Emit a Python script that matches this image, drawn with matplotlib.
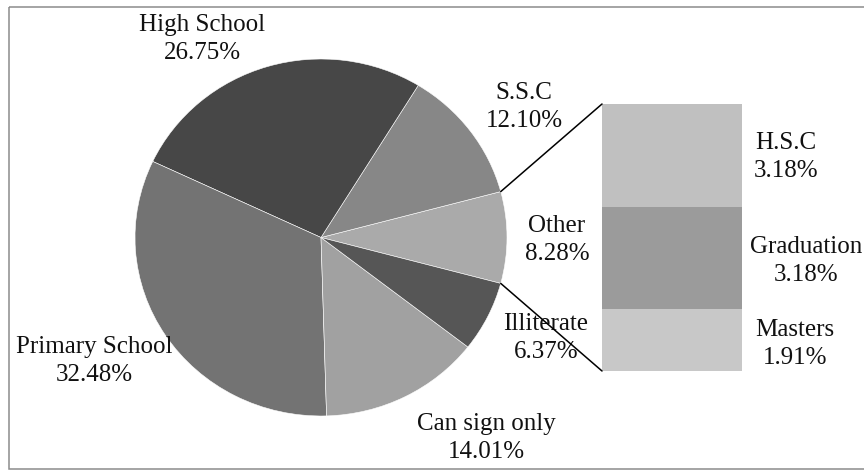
import matplotlib
matplotlib.use("Agg")
import matplotlib.pyplot as plt
from matplotlib.patches import ConnectionPatch, Rectangle
import numpy as np

# pie slices, counter-clockwise starting from the "Other" slice (centred on 3 o'clock)
pie_labels = ["Other", "S.S.C", "High School", "Primary School", "Can sign only", "Illiterate"]
pie_values = [8.28, 12.10, 26.75, 32.48, 14.01, 6.37]
pie_colors = ["#aaaaaa", "#878787", "#474747", "#737373", "#a1a1a1", "#565656"]

# breakdown of "Other", bottom to top
bar_labels = ["Masters", "Graduation", "H.S.C"]
bar_values = [1.91, 3.18, 3.18]
bar_colors = ["#c8c8c8", "#9b9b9b", "#c0c0c0"]

# label centres in figure pixels
pie_label_pos = {
    "Other": (557, 240),
    "S.S.C": (524, 107),
    "High School": (202, 39),
    "Primary School": (94, 361),
    "Can sign only": (486, 438),
    "Illiterate": (546, 338),
}
bar_label_pos = {
    "H.S.C": (786, 157),
    "Graduation": (806, 261),
    "Masters": (795, 344),
}

W, H = 864, 470
FONT = ["Liberation Serif", "DejaVu Serif"]
FS = 18
INK = "#111111"

fig = plt.figure(figsize=(W / 100, H / 100), dpi=100)
fig.patch.set_facecolor("white")


def px_rect(x0, y0, x1, y1):
    return [x0 / W, 1 - y1 / H, (x1 - x0) / W, (y1 - y0) / H]


# pie
ax_pie = fig.add_axes(px_rect(135, 59, 507, 416))
start = -pie_values[0] / sum(pie_values) * 360 / 2
ax_pie.pie(pie_values, colors=pie_colors, startangle=start, counterclock=True,
           wedgeprops=dict(edgecolor="white", linewidth=0.4))
ax_pie.set_aspect("auto")
ax_pie.set_xlim(-1, 1)
ax_pie.set_ylim(-1, 1)
ax_pie.axis("off")

# stacked bar
ax_bar = fig.add_axes(px_rect(602, 104, 742, 371))
bottom = 0
for val, col in zip(bar_values, bar_colors):
    ax_bar.bar(0, val, bottom=bottom, width=1.0, color=col, linewidth=0)
    bottom += val
ax_bar.set_xlim(-0.5, 0.5)
ax_bar.set_ylim(0, sum(bar_values))
ax_bar.axis("off")

# connectors from the edges of the "Other" slice to the bar corners
theta = np.deg2rad(pie_values[0] / sum(pie_values) * 360 / 2)
for sign, ybar in [(1, sum(bar_values)), (-1, 0)]:
    con = ConnectionPatch(xyA=(np.cos(theta), sign * np.sin(theta)), coordsA=ax_pie.transData,
                          xyB=(-0.5, ybar), coordsB=ax_bar.transData,
                          color="black", linewidth=1.1)
    fig.add_artist(con)

# overlay for labels and frame
ov = fig.add_axes([0, 0, 1, 1])
ov.set_xlim(0, W)
ov.set_ylim(H, 0)
ov.axis("off")
ov.patch.set_visible(False)

for name, val in zip(pie_labels, pie_values):
    x, y = pie_label_pos[name]
    ov.text(x, y, f"{name}\n{val:.2f}%", ha="center", va="center", fontsize=FS,
            family=FONT, color=INK, linespacing=1.3)
for name, val in zip(bar_labels, bar_values):
    x, y = bar_label_pos[name]
    ov.text(x, y, f"{name}\n{val:.2f}%", ha="center", va="center", fontsize=FS,
            family=FONT, color=INK, linespacing=1.3)

ov.add_patch(Rectangle((9, 6.5), 870, 462, fill=False, edgecolor="#8c8c8c",
                       linewidth=1.1, clip_on=False))

fig.savefig("out.png", dpi=100, facecolor="white")
